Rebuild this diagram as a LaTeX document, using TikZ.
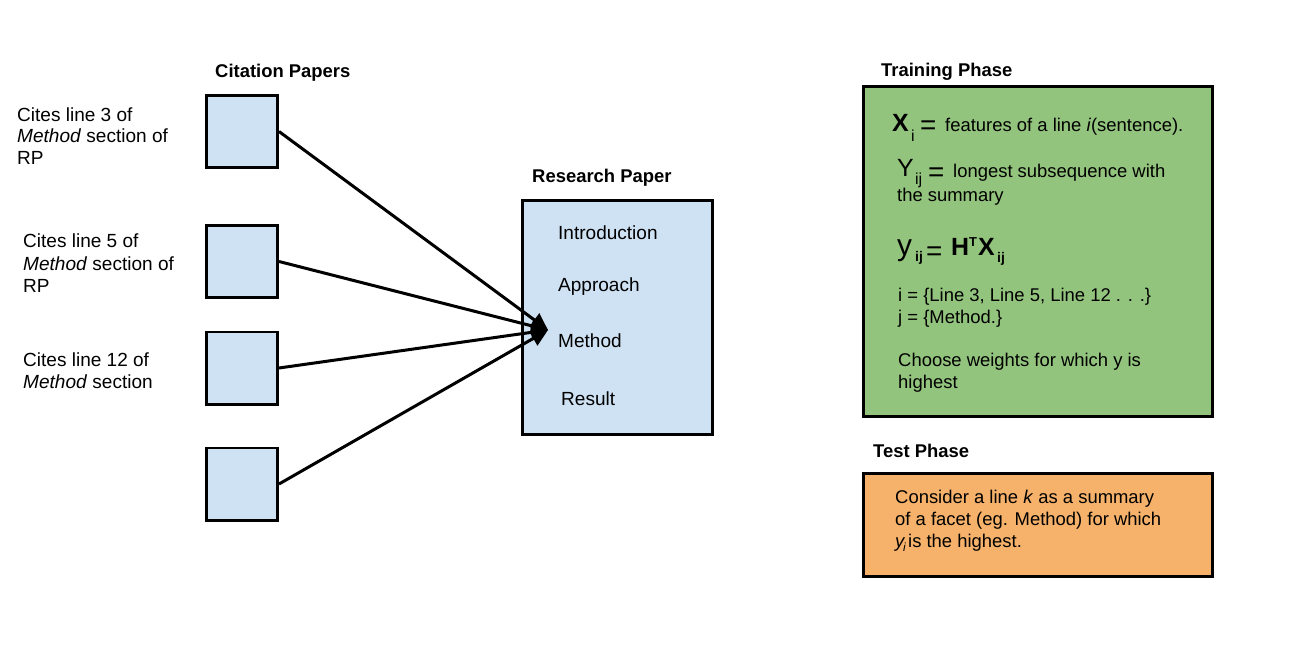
\documentclass[tikz,border=0pt]{standalone}
\usepackage{fontspec}
\setmainfont{Liberation Sans}
\usetikzlibrary{arrows.meta}
\definecolor{lblue}{HTML}{CFE2F3}
\definecolor{lgreen}{HTML}{93C47D}
\definecolor{lorange}{HTML}{F6B26B}
\begin{document}
\begin{tikzpicture}[x=1bp,y=-1bp,
  cbox/.style={draw=black, line width=2.7bp, fill=lblue, minimum width=71.3bp, minimum height=72.3bp, inner sep=0},
  bigbox/.style={draw=black, line width=2.7bp, inner sep=0},
  txt/.style={anchor=base west, inner sep=0, font=\fontsize{18.5}{21.7}\selectfont},
  ltxt/.style={anchor=base west, inner sep=0, font=\fontsize{19.1}{21.7}\selectfont},
  ttl/.style={anchor=base west, inner sep=0, font=\fontsize{18.5}{21.7}\selectfont\bfseries},
  eq/.style={anchor=base west, inner sep=0, font=\fontsize{28}{28}\selectfont},
  bigb/.style={anchor=base west, inner sep=0, font=\fontsize{25}{25}\selectfont\bfseries},
  sub/.style={anchor=base west, inner sep=0, font=\fontsize{16}{16}\selectfont},
  subb/.style={anchor=base west, inner sep=0, font=\fontsize{14}{14}\selectfont\bfseries},
  conn/.style={line width=3bp, -{Triangle[length=17bp,width=16bp]}}]
\useasboundingbox (0,0) rectangle (1289,651);

% citation boxes
\node[cbox] (c1) at (242,131.5) {};
\node[cbox] (c2) at (242,261.5) {};
\node[cbox] (c3) at (242,368) {};
\node[cbox] (c4) at (242,484) {};

% research paper, training and test boxes
\node[bigbox, fill=lblue, minimum width=190.3bp, minimum height=234.3bp] (rp) at (617.5,317.5) {};
\node[bigbox, fill=lgreen, minimum width=349.3bp, minimum height=330.3bp] (tr) at (1038,251.5) {};
\node[bigbox, fill=lorange, minimum width=349.3bp, minimum height=103.3bp] (te) at (1038,525) {};

% titles
\node[ttl] (tcp) at (215,78) {Citation Papers};
\node[ttl] (trp) at (532,183) {Research Paper};
\node[ttl] (ttp) at (881,77) {Training Phase};
\node[ttl] (tsp) at (873,457) {Test Phase};

% left labels
\node[ltxt] (l11) at (17,122) {Cites line 3 of};
\node[ltxt] (l12) at (17,143) {\textit{Method} section of};
\node[ltxt] (l13) at (17,165) {RP};
\node[ltxt] (l21) at (23,248) {Cites line 5 of};
\node[ltxt] (l22) at (23,270) {\textit{Method} section of};
\node[ltxt] (l23) at (23,292) {RP};
\node[ltxt] (l31) at (23,366) {Cites line 12 of};
\node[ltxt] (l32) at (23,388) {\textit{Method} section};

% research paper sections
\node[ltxt] (s1) at (558,240) {Introduction};
\node[ltxt] (s2) at (558,291) {Approach};
\node[ltxt] (s3) at (558,347) {Method};
\node[ltxt] (s4) at (561,405) {Result};

% arrows
\coordinate (tip) at (548,330);
\draw[conn] (c1.east) -- (tip);
\draw[conn] (c2.east) -- (tip);
\draw[conn] (c3.east) -- (tip);
\draw[conn] (c4.east) -- (tip);

% training phase content
\node[bigb] (x1) at (892,132) {X};
\node[sub] (x1s) at (911,142) {i};
\node[eq] (x1e) at (920,135) {=};
\node[txt] (x1t) at (945,132) {features of a line \textit{i}(sentence).};

\node[anchor=base west, inner sep=0, font=\fontsize{25}{25}\selectfont] (y1) at (897,177) {Y};
\node[sub] (y1s) at (915,185) {ij};
\node[eq] (y1e) at (928,182) {=};
\node[txt] (y1t) at (953,178) {longest subsequence with};
\node[txt] (y1u) at (897,202) {the summary};

\node[anchor=base west, inner sep=0, font=\fontsize{30}{30}\selectfont] (y2) at (897,256) {y};
\node[subb] (y2s) at (915,261) {ij};
\node[eq] (y2e) at (926,260) {=};
\node[bigb] (h2) at (951,256) {H};
\node[anchor=base west, inner sep=0, font=\fontsize{13}{13}\selectfont\bfseries] (h2t) at (969,247) {T};
\node[bigb] (x2) at (978,256) {X};
\node[subb] (x2s) at (997,262) {ij};

\node[txt] (i1) at (898,301) {i = \{Line 3, Line 5, Line 12 . . .\}};
\node[txt] (j1) at (898,323) {j = \{Method.\}};
\node[txt] (w1) at (898,366) {Choose weights for which y is};
\node[txt] (w2) at (898,388) {highest};

% test phase content
\node[txt] (k1) at (895,503) {Consider a line \textit{k} as a summary};
\node[txt] (k2) at (895,525) {of a facet (eg. Method) for which};
\node[txt] (k3) at (895,547) {\textit{y}};
\node[anchor=base west, inner sep=0, font=\fontsize{12}{12}\selectfont\itshape] (k3s) at (903,551) {i};
\node[txt] (k3t) at (908,547) {is the highest.};
\end{tikzpicture}
\end{document}
